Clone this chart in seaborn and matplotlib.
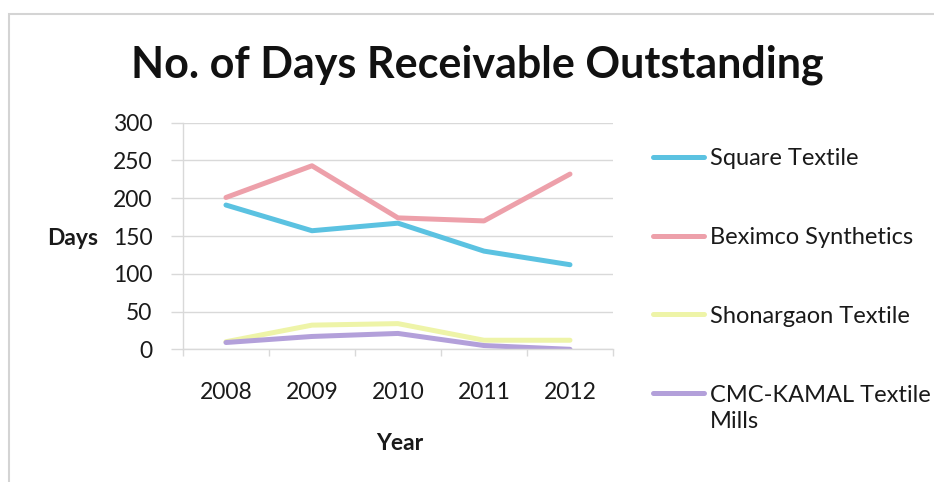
import matplotlib
matplotlib.use("Agg")
import matplotlib.pyplot as plt
from matplotlib.patches import Rectangle
from matplotlib.ticker import FixedLocator
import pandas as pd
import seaborn as sns

years = ["2008", "2009", "2010", "2011", "2012"]
square_textile = [191, 157, 167, 130, 112]
beximco_synthetics = [201, 243, 174, 170, 232]
shonargaon_textile = [10, 32, 34, 12, 12]
cmc_kamal = [9, 17, 21, 5, 0]

series_names = ["Square Textile", "Beximco Synthetics", "Shonargaon Textile",
                "CMC-KAMAL Textile\nMills"]
series_values = [square_textile, beximco_synthetics, shonargaon_textile, cmc_kamal]
colors = ["#5BC2E1", "#EDA0AA", "#EEF4A8", "#B3A0DA"]

rows = []
for name, vals in zip(series_names, series_values):
    for yr, v in zip(years, vals):
        rows.append({"Year": yr, "Days": v, "Company": name})
df = pd.DataFrame(rows)

sns.set_theme(style="white")
plt.rcParams["font.family"] = ["Lato", "DejaVu Sans"]

fig = plt.figure(figsize=(9.34, 4.82), dpi=100)
ax = fig.add_axes([0.1959, 0.2753, 0.4604, 0.4701])

sns.lineplot(data=df, x="Year", y="Days", hue="Company", palette=colors,
             hue_order=series_names, linewidth=3.6, ax=ax, legend=True,
             sort=False)

ax.set_xlim(-0.5, 4.5)
ax.set_ylim(0, 300)
ax.set_yticks([0, 50, 100, 150, 200, 250, 300])
ax.yaxis.grid(True, color="#D9D9D9", linewidth=1.0)
ax.xaxis.grid(False)
ax.set_axisbelow(True)

for side in ["top", "right"]:
    ax.spines[side].set_visible(False)
for side in ["left", "bottom"]:
    ax.spines[side].set_color("#D9D9D9")
    ax.spines[side].set_linewidth(1.0)

# Tick marks between categories on x, outward marks on y
ax.xaxis.set_minor_locator(FixedLocator([-0.5, 0.5, 1.5, 2.5, 3.5, 4.5]))
ax.tick_params(axis="x", which="major", length=0, pad=23.5, labelsize=16.5,
               labelcolor="#1a1a1a")
ax.tick_params(axis="x", which="minor", length=5, width=1, color="#D9D9D9",
               direction="out", bottom=True)
ax.tick_params(axis="y", which="major", length=9, width=1, color="#D9D9D9",
               direction="out", left=True, pad=13, labelsize=16.5,
               labelcolor="#1a1a1a")

ax.set_xlabel("Year", fontsize=16.5, fontweight="bold", color="#1a1a1a")
ax.xaxis.set_label_coords(0.505, -0.415)
ax.xaxis.label.set_va("center")
ax.set_ylabel("Days", fontsize=16.5, fontweight="bold", color="#1a1a1a",
              rotation=0)
ax.yaxis.set_label_coords(-0.256, 0.49)
ax.yaxis.label.set_va("center")
ax.yaxis.label.set_ha("center")

fig.suptitle("No. of Days Receivable Outstanding", x=0.511, y=0.84,
             fontsize=31, fontweight="bold", color="#111111", va="baseline")

handles, labels = ax.get_legend_handles_labels()
leg = ax.legend(handles, labels, loc="upper left",
                bbox_to_anchor=(0.699, 0.692), bbox_transform=fig.transFigure,
                frameon=False, fontsize=17, handlelength=2.15,
                handletextpad=0.25, labelspacing=2.45, borderpad=0,
                borderaxespad=0)
for line in leg.get_lines():
    line.set_linewidth(3.6)
for text in leg.get_texts():
    text.set_color("#1a1a1a")
    text.set_linespacing(1.3)
for column in leg._legend_handle_box.get_children():
    for item in column.get_children():
        item.align = "top"

# Chart frame
fig.patches.append(Rectangle((9 / 934, -0.1), 1.2, 1 - 14 / 482 + 0.1,
                             transform=fig.transFigure, fill=False,
                             edgecolor="#D4D4D4", linewidth=1.5))

fig.savefig("out.png", dpi=100, facecolor="white")
